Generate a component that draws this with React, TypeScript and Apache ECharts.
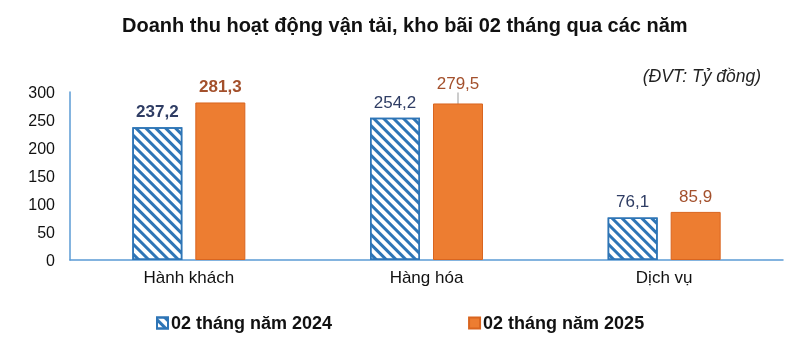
import React, { useEffect, useRef } from "react";
import * as echarts from "echarts";

const categories = ["Hành khách", "Hàng hóa", "Dịch vụ"];
const values2024 = [237.2, 254.2, 76.1];
const values2025 = [281.3, 279.5, 85.9];
const seriesNames = ["02 tháng năm 2024", "02 tháng năm 2025"];
const yTicks = [0, 50, 100, 150, 200, 250, 300];

const FONT = "'Liberation Sans', Arial, sans-serif";
const fmt = (v: number) => v.toFixed(1).replace(".", ",");

export default function App() {
  const ref = useRef<HTMLDivElement>(null);
  useEffect(() => {
    if (!ref.current) return;
    const chart = echarts.init(ref.current, undefined, { renderer: "svg" });
    const blue = "#2E75B6";
    const orange = "#ED7D31";
    const blueLabel = "#2F3D64";
    const orangeLabel = "#A3502C";
    chart.setOption({
      animation: false,
      textStyle: { fontFamily: FONT },
      title: {
        text: "Doanh thu hoạt động vận tải, kho bãi 02 tháng qua các năm",
        left: 117,
        top: 10,
        textStyle: { fontFamily: FONT, fontSize: 20, fontWeight: "bold", color: "#111" },
      },
      graphic: [
        {
          type: "text",
          right: 38,
          top: 67,
          style: {
            text: "(ĐVT: Tỷ đồng)",
            font: `italic 17.5px ${FONT}`,
            fill: "#222",
          },
        },
      ],
      legend: {
        left: 151,
        top: 309,
        itemGap: 136,
        itemWidth: 11,
        itemHeight: 11,
        icon: "rect",
        textStyle: { fontFamily: FONT, fontSize: 18, fontWeight: "bold", color: "#111", padding: [0, 0, 0, -2] },
        data: seriesNames,
      },
      grid: { left: 70, right: 16, top: 92, bottom: 91, containLabel: false },
      xAxis: {
        type: "category",
        data: categories,
        axisLine: { lineStyle: { color: "#5B9BD5", width: 1.5 } },
        axisTick: { show: false },
        axisLabel: { fontFamily: FONT, fontSize: 17, color: "#111", margin: 9 },
      },
      yAxis: {
        type: "value",
        min: yTicks[0],
        max: yTicks[yTicks.length - 1],
        interval: 50,
        axisLine: { show: true, lineStyle: { color: "#5B9BD5", width: 1.5 } },
        axisTick: { show: false },
        splitLine: { show: false },
        axisLabel: { fontFamily: FONT, fontSize: 16, color: "#111", margin: 15 },
      },
      series: [
        {
          name: seriesNames[0],
          type: "bar",
          barWidth: 50,
          barGap: "26%",
          data: values2024.map((v, i) => ({
            value: v,
            label: { fontWeight: i === 0 ? "bold" : "normal" },
          })),
          itemStyle: {
            color: "#ffffff",
            borderColor: blue,
            borderWidth: 1.5,
            decal: {
              symbol: "rect",
              color: blue,
              backgroundColor: "#ffffff",
              dashArrayX: [1, 0],
              dashArrayY: [3, 4],
              rotation: Math.PI / 4,
            },
          },
          label: {
            show: true,
            position: "top",
            distance: 7,
            fontFamily: FONT,
            fontSize: 17,
            color: blueLabel,
            formatter: (p: any) => fmt(p.value),
          },
        },
        {
          name: seriesNames[1],
          type: "bar",
          barWidth: 50,
          data: values2025.map((v, i) => ({
            value: v,
            label: { fontWeight: i === 0 ? "bold" : "normal" },
            labelLine: { show: i === 1 },
          })),
          itemStyle: { color: orange, borderColor: "#D9651F", borderWidth: 1 },
          label: {
            show: true,
            position: "top",
            distance: 7,
            fontFamily: FONT,
            fontSize: 17,
            color: orangeLabel,
            formatter: (p: any) => fmt(p.value),
          },
          labelLine: { show: false, lineStyle: { color: "#999", width: 1 } },
          labelLayout: (params: any) =>
            params.dataIndex === 1 ? { dy: -4 } : {},
        },
      ],
    });
    return () => chart.dispose();
  }, []);
  return (
    <div
      ref={ref}
      style={{ position: "fixed", left: 0, top: 0, width: 799, height: 351 }}
    />
  );
}
